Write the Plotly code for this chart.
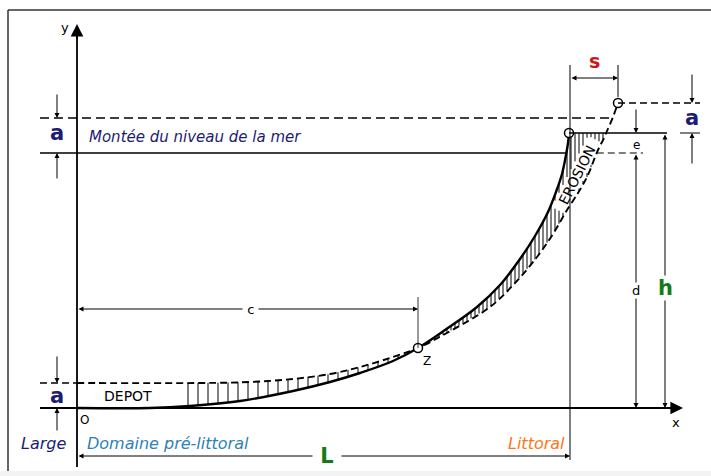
import numpy as np
import plotly.graph_objects as go

# ---- diagram data (units: diagram units, origin at O) ----
L_len = 493        # width of pre-littoral domain (O -> old shoreline)
h_top = 275        # old shore crest height
d_sea = 255        # present sea level
sea_new = 290      # raised sea level (a)
dep_top = 25       # deposit top (a)
new_top = 305      # new shore crest (a above old crest)
s_shift = 48       # shoreline retreat
c_len = 341        # O -> Z distance
z_y = 60

old_x = [0, 73, 113, 163, 216, 253, 283, 316, 341, 368, 400, 423, 443, 458, 471, 479, 485, 489, 491, 492]
old_y = [0, 0, 2, 7, 17, 26, 35, 47, 60, 78, 101, 123, 149, 172, 196, 216, 234, 253, 265, 275]
new_x = [0, 123, 173, 216, 253, 283, 316, 341, 368, 413, 438, 460, 476, 490, 501, 510, 521, 527, 530, 536, 541]
new_y = [25, 25, 26, 29, 34, 41, 51, 60, 74, 101, 125, 151, 174, 198, 215, 231, 258, 270, 277, 291, 305]

NAVY = "#1c1c72"
BLUE = "#2e7fb8"
ORANGE = "#ff7518"
GREEN = "#157a15"
RED = "#cc1515"
FONT = "DejaVu Sans"

fig = go.Figure()

def seg(x0, y0, x1, y1, width=1.0, dash=None, color="black"):
    fig.add_shape(type="line", x0=x0, y0=y0, x1=x1, y1=y1, xref="x", yref="y",
                  line=dict(color=color, width=width, dash=dash), layer="above")

def arrow(x, y, ax, ay, both=False, size=1.0, width=1.0, head=2):
    fig.add_annotation(x=x, y=y, ax=ax, ay=ay, xref="x", yref="y", axref="x", ayref="y",
                       showarrow=True, arrowhead=head, startarrowhead=head,
                       arrowsize=size, startarrowsize=size, arrowwidth=width,
                       arrowside="end+start" if both else "end",
                       standoff=0, startstandoff=0, text="", arrowcolor="black")

def label(x, y, text, size=14, color="black", bold=False, italic=False, bg=None,
          xanchor="center", angle=0):
    t = text
    if bold:
        t = "<b>" + t + "</b>"
    if italic:
        t = "<i>" + t + "</i>"
    fig.add_annotation(x=x, y=y, xref="x", yref="y", text=t, showarrow=False,
                       font=dict(family=FONT, size=size, color=color),
                       bgcolor=bg, borderpad=0, xanchor=xanchor, yanchor="middle",
                       textangle=angle)

# ---- frame ----
fig.add_shape(type="rect", xref="paper", yref="paper", x0=0, x1=1, y0=0, y1=5/476,
              fillcolor="#f3f3f3", line=dict(width=0), layer="below")
fig.add_shape(type="line", xref="paper", yref="paper", x0=8/711, x1=1, y0=1-10/476, y1=1-10/476,
              line=dict(color="#333", width=1.5))
fig.add_shape(type="line", xref="paper", yref="paper", x0=8/711, x1=8/711, y0=5/476, y1=1-10/476,
              line=dict(color="#333", width=1.5))

# ---- hatching (with a gap for the EROSION label) ----
ER_CX, ER_CY, ER_ANG = 500, 233, 63
ca, sa = np.cos(np.radians(ER_ANG)), np.sin(np.radians(ER_ANG))
T_HALF, W_HALF = 40, 8

def gap_interval(xv):
    dx = xv - ER_CX
    lo1, hi1 = sorted([(-T_HALF - dx * ca) / sa + ER_CY, (T_HALF - dx * ca) / sa + ER_CY])
    lo2, hi2 = sorted([(-W_HALF + dx * sa) / ca + ER_CY, (W_HALF + dx * sa) / ca + ER_CY])
    lo, hi = max(lo1, lo2), min(hi1, hi2)
    return (lo, hi) if hi > lo else None

hx, hy = [], []
def add_hatch(xv, bot, top):
    g = gap_interval(xv)
    pieces = [(bot, top)]
    if g is not None:
        lo, hi = g
        pieces = []
        if lo > bot:
            pieces.append((bot, min(lo, top)))
        if hi < top:
            pieces.append((max(hi, bot), top))
    for b, t in pieces:
        if t - b > 0.5:
            hx.extend([xv, xv, None]); hy.extend([b, t, None])

for xv in np.arange(111, 340, 10):
    top = np.interp(xv, new_x, new_y)
    bot = np.interp(xv, old_x, old_y)
    if top - bot > 1:
        add_hatch(xv, bot, top)
for xv in np.arange(346, 532, 4):
    top = np.interp(xv, old_x, old_y) if xv <= old_x[-1] else h_top
    bot = np.interp(xv, new_x, new_y)
    if top - bot > 1:
        add_hatch(xv, bot, top)
fig.add_trace(go.Scatter(x=hx, y=hy, mode="lines", line=dict(color="black", width=1.0),
                         hoverinfo="skip"))

# ---- profiles ----
fig.add_trace(go.Scatter(x=old_x, y=old_y, mode="lines", line=dict(color="black", width=2.4),
                         line_shape="spline", hoverinfo="skip"))
fig.add_trace(go.Scatter(x=new_x, y=new_y, mode="lines",
                         line=dict(color="black", width=1.9, dash="7px,4px"),
                         line_shape="spline", hoverinfo="skip"))

# ---- levels ----
x_sea_old = float(np.interp(d_sea, old_y[1:], old_x[1:]))
x_sea_new = float(np.interp(sea_new, new_y[1:], new_x[1:]))
x_sea_cut = float(np.interp(d_sea, new_y[1:], new_x[1:]))
seg(-37, d_sea, x_sea_old, d_sea, 1.3)
seg(x_sea_cut, d_sea, 566, d_sea, 1.2, dash="7px,4px")
seg(-37, sea_new, x_sea_new, sea_new, 1.5, dash="9px,5px")
seg(-37, dep_top, 0, dep_top, 1.5, dash="7px,4px")
seg(old_x[-1], h_top, 590, h_top, 1.3)
seg(603, h_top, 623, h_top, 1.0)
seg(new_x[-1], new_top, 623, new_top, 1.5, dash="7px,4px")

# ---- axes ----
seg(-37, 0, 600, 0, 1.8)
arrow(606, 0, 590, 0, size=1.4, width=1.8)
seg(0, -59, 0, 375, 1.8)
arrow(0, 384, 0, 368, size=1.4, width=1.8)

# ---- dimension lines ----
arrow(-20, sea_new, -20, 315); arrow(-20, d_sea, -20, 228)
arrow(-20, dep_top, -20, 53); arrow(-20, 0, -20, -24)
arrow(615, new_top, 615, 335); arrow(615, h_top, 615, 243)
arrow(559, h_top, 559, 300)
arrow(559, 0, 559, d_sea, both=True)
arrow(588, 0, 588, h_top, both=True)
seg(L_len, -52, L_len, 343, 1.0)
seg(L_len + s_shift, 311, L_len + s_shift, 343, 1.0)
arrow(L_len + s_shift, 330, L_len, 330, both=True)
arrow(c_len, 99, 0, 99, both=True)
seg(c_len, z_y, c_len, 111, 0.8)
arrow(L_len, -48, 0, -48, both=True)

# ---- points ----
fig.add_trace(go.Scatter(x=[L_len + s_shift, old_x[-1], c_len], y=[new_top, h_top, z_y],
                         mode="markers", marker=dict(size=9, color="white",
                         line=dict(color="black", width=1.5)), hoverinfo="skip"))

# ---- labels ----
label(-12, 381, "y", 13)
label(599, -14, "x", 13)
label(7, -12, "O", 12)
label(350, 47, "Z", 12)
label(51, 12, "DEPOT", 14)
label(11, 271, "Montée du niveau de la mer", 15, NAVY, italic=True, xanchor="left")
label(-20, 275, "a", 21, NAVY, bold=True)
label(-20, 12, "a", 21, NAVY, bold=True)
label(615, 290, "a", 21, NAVY, bold=True)
label(517, 347, "s", 19, RED, bold=True)
label(559, 263, "e", 12)
label(559, 118, "d", 13, bg="white")
label(588, 120, "h", 21, GREEN, bold=True, bg="white")
label(173, 99, " c ", 13, bg="white")
label(250, -48, " L ", 21, GREEN, bold=True, bg="white")
label(-34, -35, "Large", 16, NAVY, italic=True)
label(9, -35, "Domaine pré-littoral", 16, BLUE, italic=True, xanchor="left")
label(489, -35, "Littoral", 16, ORANGE, italic=True, xanchor="right")
label(ER_CX, ER_CY, "EROSION", 14, angle=-ER_ANG)

fig.update_layout(
    width=711, height=476, margin=dict(l=0, r=0, t=0, b=0),
    paper_bgcolor="white", plot_bgcolor="white", showlegend=False,
    xaxis=dict(range=[-77, 634], visible=False, fixedrange=True),
    yaxis=dict(range=[-68, 408], visible=False, fixedrange=True),
)
fig.write_html("out.html")
